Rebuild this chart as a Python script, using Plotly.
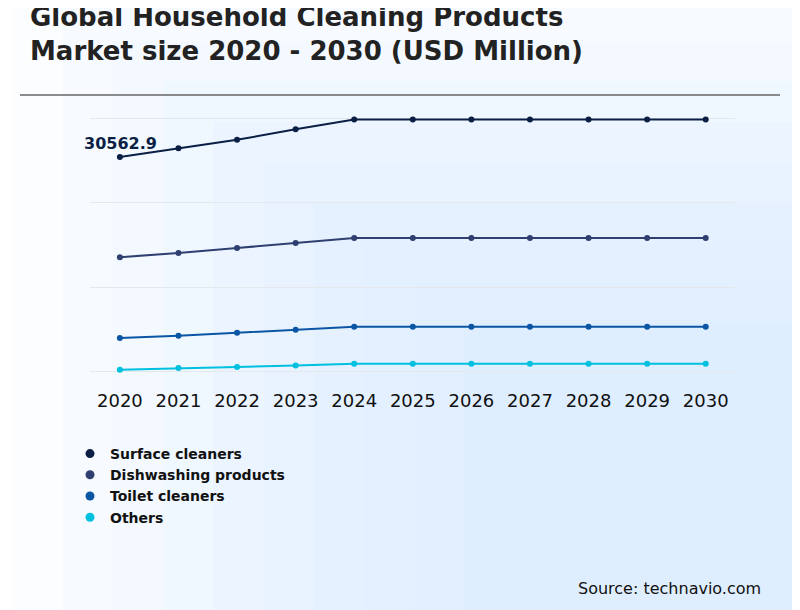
import plotly.graph_objects as go

years = [2020, 2021, 2022, 2023, 2024, 2025, 2026, 2027, 2028, 2029, 2030]
surface = [30562.9, 31800, 33000, 34500, 35900, 35900, 35900, 35900, 35900, 35900, 35900]
dish = [16270, 16850, 17570, 18290, 19010, 19010, 19010, 19010, 19010, 19010, 19010]
toilet = [4750, 5040, 5470, 5900, 6340, 6340, 6340, 6340, 6340, 6340, 6340]
others = [200, 450, 600, 800, 1050, 1050, 1050, 1050, 1050, 1050, 1050]
names = ["Surface cleaners", "Dishwashing products", "Toilet cleaners", "Others"]
colors = ["#0b1f45", "#2e3f70", "#0b56a4", "#00c0e0"]

L, R, T, B = 82, 73, 108, 244
PH = 610 - T - B

fig = go.Figure()
for n, vals, c in zip(names, [surface, dish, toilet, others], colors):
    fig.add_trace(go.Scatter(x=years, y=vals, name=n, mode="lines+markers", showlegend=False,
                             line=dict(color=c, width=2), marker=dict(color=c, size=6)))
for n, c in zip(names, colors):
    fig.add_trace(go.Scatter(x=[None], y=[None], name="<b>" + n + "</b>", mode="markers",
                             marker=dict(color=c, size=9)))

fig.add_annotation(x=years[0], y=surface[0], text="<b>30562.9</b>", showarrow=False,
                   xanchor="left", yanchor="bottom", xshift=-38, yshift=2,
                   font=dict(size=16, color="#0b1f45", family="DejaVu Sans"))

# background gradient approximation
for i in range(10):
    t = i / 9
    fig.add_shape(type="rect", xref="paper", yref="paper",
                  x0=-0.12 + 0.7 * t, x1=1.2, y0=-1.0, y1=1.6 - 1.4 * t,
                  fillcolor="rgba(200,232,248,0.07)", line=dict(width=0), layer="below")

ly = (610 - B - 87) / PH
fig.add_shape(type="line", xref="paper", yref="paper", x0=(12 - L) / (800 - L - R),
              x1=(772 - L) / (800 - L - R), y0=ly, y1=ly,
              line=dict(color="#666", width=1.5))

fig.add_annotation(xref="paper", yref="paper", x=(755 - L) / (800 - L - R), y=-(580 - (610 - B)) / PH,
                   text="Source: technavio.com", showarrow=False, xanchor="right",
                   yanchor="middle", font=dict(size=16, color="#111", family="DejaVu Sans"))

fig.update_layout(
    width=800, height=610,
    margin=dict(l=L, r=R, t=T, b=B),
    paper_bgcolor="#ffffff", plot_bgcolor="rgba(0,0,0,0)",
    title=dict(text="<b>Global Household Cleaning Products<br>Market size 2020 - 2030 (USD Million)</b>",
               x=22 / 800, xanchor="left", y=0.97, yanchor="top",
               font=dict(size=26, color="#222", family="DejaVu Sans")),
    font=dict(family="DejaVu Sans"),
    legend=dict(x=(62 - L) / (800 - L - R), y=-(430 - (610 - B)) / PH, xanchor="left", yanchor="top",
                bgcolor="rgba(0,0,0,0)", font=dict(size=14, color="#111"),
                itemwidth=30, traceorder="normal"),
)
fig.update_xaxes(range=[2019.49, 2030.5], tickvals=years, showgrid=False, zeroline=False,
                 tickfont=dict(size=18, color="#111"), ticklabelstandoff=14, showline=False)
fig.update_yaxes(range=[-400, 36400], tickvals=[0, 12000, 24000, 36000], showticklabels=False,
                 gridcolor="#e4e8ec", zeroline=False)
fig.write_html("out.html")
